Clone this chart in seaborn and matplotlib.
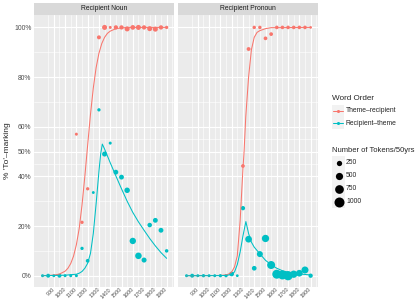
import numpy as np
import pandas as pd
import seaborn as sns
import matplotlib.pyplot as plt
from matplotlib.patches import Rectangle

nan = np.nan

# 50-year periods
years = list(range(800, 1901, 50))

# Recipient Noun: observed share of 'to'-marking and token counts
noun_tr_pct = [nan, nan, nan, nan, nan, nan, 0.57, 0.215, 0.35, nan, 0.96, 1.0,
               1.0, 1.0, 1.0, 0.994, 1.0, 1.0, 1.0, 0.995, 0.993, 1.0, 1.0]
noun_tr_tok = [nan, nan, nan, nan, nan, nan, 50, 70, 70, nan, 120, 220,
               50, 150, 150, 220, 186, 220, 150, 220, 220, 150, 70]
noun_rt_pct = [0, 0, 0, 0, 0, 0, 0, 0.11, 0.06, 0.335, 0.668, 0.49,
               0.534, 0.417, 0.397, 0.344, 0.14, 0.08, 0.063, 0.204, 0.223, 0.183, 0.10]
noun_rt_tok = [50, 120, 50, 120, 50, 50, 50, 70, 100, 40, 70, 220,
               50, 200, 200, 270, 380, 400, 220, 170, 200, 200, 85]

# Recipient Pronoun
pron_tr_pct = [nan, nan, nan, nan, nan, nan, nan, nan, nan, nan, 0.442, 0.913,
               1.0, 1.0, 0.956, 0.973, 1.0, 1.0, 1.0, 1.0, 1.0, 1.0, 1.0]
pron_tr_tok = [nan, nan, nan, nan, nan, nan, nan, nan, nan, nan, 100, 110,
               80, 80, 100, 100, 90, 90, 90, 90, 90, 90, 30]
pron_rt_pct = [0, 0, 0, 0, 0, 0, 0, 0, 0.007, 0, 0.272, 0.147,
               0.03, 0.087, 0.15, 0.043, 0.006, 0.003, 0.0, 0.006, 0.01, 0.023, 0.0]
pron_rt_tok = [50, 120, 50, 70, 50, 50, 70, 70, 186, 35, 150, 425,
               186, 332, 512, 625, 800, 800, 850, 512, 425, 470, 150]

# fitted model curves
noun_tr_fit_x = [800, 850, 900, 950, 1000, 1025, 1050, 1075, 1100, 1125, 1150, 1175, 1200,
                 1225, 1250, 1275, 1300, 1325, 1350, 1375, 1400, 1450, 1500, 1550, 1900]
noun_tr_fit_y = [0.0003, 0.0009, 0.0024, 0.0066, 0.018, 0.030, 0.049, 0.079, 0.125, 0.19,
                 0.285, 0.40, 0.526, 0.65, 0.756, 0.838, 0.896, 0.935, 0.96, 0.976, 0.985,
                 0.995, 0.998, 1.0, 1.0]
noun_rt_fit_x = [800, 900, 1000, 1050, 1100, 1125, 1150, 1175, 1200, 1225, 1250, 1275, 1300,
                 1315, 1330, 1350, 1400, 1450, 1500, 1550, 1600, 1650, 1700, 1750, 1800,
                 1850, 1900]
noun_rt_fit_y = [0.0, 0.001, 0.002, 0.004, 0.006, 0.01, 0.017, 0.03, 0.05, 0.09, 0.17, 0.29,
                 0.42, 0.49, 0.53, 0.51, 0.455, 0.402, 0.35, 0.30, 0.255, 0.217, 0.183, 0.15,
                 0.12, 0.093, 0.07]
pron_tr_fit_x = [800, 1000, 1100, 1150, 1175, 1200, 1225, 1250, 1275, 1300, 1310, 1325, 1350,
                 1375, 1400, 1425, 1450, 1500, 1550, 1900]
pron_tr_fit_y = [0.0, 0.0005, 0.001, 0.003, 0.007, 0.015, 0.035, 0.08, 0.22, 0.43, 0.50, 0.64,
                 0.80, 0.91, 0.96, 0.98, 0.987, 0.995, 0.999, 1.0]
pron_rt_fit_x = [800, 1100, 1150, 1175, 1200, 1225, 1250, 1275, 1300, 1326, 1350, 1375, 1400,
                 1450, 1500, 1550, 1600, 1650, 1700, 1750, 1800, 1850, 1900]
pron_rt_fit_y = [0.0, 0.0005, 0.001, 0.003, 0.006, 0.015, 0.045, 0.095, 0.16, 0.218, 0.17,
                 0.135, 0.115, 0.088, 0.062, 0.044, 0.03, 0.02, 0.014, 0.01, 0.007, 0.005, 0.003]

panels = ['Recipient Noun', 'Recipient Pronoun']
orders = ['Theme\u2013recipient', 'Recipient\u2013theme']
pal = {orders[0]: '#F8766D', orders[1]: '#00BFC4'}

y_breaks = [0, 0.2, 0.4, 0.5, 0.6, 0.8, 1.0]
y_labels = ['0%', '20%', '40%', '50%', '60%', '80%', '100%']
x_breaks = list(range(900, 1901, 100))
size_breaks = [250, 500, 750, 1000]

# build long tables
rows = []
for panel, order, pct, tok in [
        (panels[0], orders[0], noun_tr_pct, noun_tr_tok),
        (panels[0], orders[1], noun_rt_pct, noun_rt_tok),
        (panels[1], orders[0], pron_tr_pct, pron_tr_tok),
        (panels[1], orders[1], pron_rt_pct, pron_rt_tok)]:
    for yr, p, t in zip(years, pct, tok):
        rows.append({'panel': panel, 'order': order, 'year': yr, 'pct': p, 'tokens': t})
pts = pd.DataFrame(rows).dropna()

crows = []
for panel, order, xs, ys in [
        (panels[0], orders[0], noun_tr_fit_x, noun_tr_fit_y),
        (panels[0], orders[1], noun_rt_fit_x, noun_rt_fit_y),
        (panels[1], orders[0], pron_tr_fit_x, pron_tr_fit_y),
        (panels[1], orders[1], pron_rt_fit_x, pron_rt_fit_y)]:
    for x, y in zip(xs, ys):
        crows.append({'panel': panel, 'order': order, 'year': x, 'pct': y})
fits = pd.DataFrame(crows)

sns.set_style('darkgrid', {'axes.facecolor': '#EBEBEB', 'grid.color': 'white'})
plt.rcParams['font.family'] = ['Liberation Sans', 'DejaVu Sans']

W, H = 420, 301
fig = plt.figure(figsize=(W / 100, H / 100), dpi=100)
fig.patch.set_facecolor('white')

SIZES = (2.2, 51.8)
NORM = (0, 1000)
panel_left = [34.3, 178.3]
panel_w = 140.0
top, bottom = 15.0, 286.5

for i, panel in enumerate(panels):
    ax = fig.add_axes([panel_left[i] / W, 1 - bottom / H, panel_w / W, (bottom - top) / H])
    ax.set_facecolor('#EBEBEB')
    sub = pts[pts['panel'] == panel]
    sns.scatterplot(data=sub, x='year', y='pct', hue='order', hue_order=orders,
                    palette=pal, size='tokens', sizes=SIZES, size_norm=NORM,
                    linewidth=0, legend=False, ax=ax, zorder=3)
    fsub = fits[fits['panel'] == panel]
    sns.lineplot(data=fsub, x='year', y='pct', hue='order', hue_order=orders,
                 palette=pal, estimator=None, sort=True, linewidth=0.75,
                 legend=False, ax=ax, zorder=4)
    ax.set_xlim(727, 1968)
    ax.set_ylim(-0.0435, 1.05)
    ax.set_xticks(x_breaks)
    ax.set_xticks(list(range(850, 1951, 100)), minor=True)
    ax.set_yticks(y_breaks)
    ax.set_yticks([0.1, 0.3, 0.45, 0.55, 0.7, 0.9], minor=True)
    ax.grid(which='major', color='white', linewidth=0.8)
    ax.grid(which='minor', color='white', linewidth=0.4)
    ax.set_axisbelow(True)
    for s in ax.spines.values():
        s.set_visible(False)
    ax.tick_params(which='major', length=1.3, width=0.5, color='#333333',
                   labelsize=4.9, labelcolor='#4D4D4D', pad=0.8)
    ax.tick_params(axis='x', which='major', labelsize=4.0, pad=0.2)
    ax.tick_params(which='minor', length=0)
    ax.set_xticklabels([str(b) for b in x_breaks], rotation=45, ha='right',
                       va='center', rotation_mode='anchor')
    if i == 0:
        ax.set_yticklabels(y_labels)
    else:
        ax.tick_params(axis='y', which='both', left=False, labelleft=False)
    ax.set_xlabel('')
    ax.set_ylabel('')

    # facet strip
    sax = fig.add_axes([panel_left[i] / W, 1 - top / H, panel_w / W, 12.3 / H])
    sax.set_facecolor('#D9D9D9')
    sax.set_xticks([])
    sax.set_yticks([])
    for s in sax.spines.values():
        s.set_visible(False)
    sax.text(0.5, 0.5, panel, ha='center', va='center', fontsize=4.9, color='#1A1A1A',
             transform=sax.transAxes)

fig.text(8 / W, 1 - 151 / H, "% 'To'\u2013marking", rotation=90, ha='center',
         va='center', fontsize=6)

# legends drawn in pixel coordinates
lax = fig.add_axes([0, 0, 1, 1])
lax.set_xlim(0, W)
lax.set_ylim(H, 0)
lax.axis('off')
lax.patch.set_alpha(0)

lax.text(331.5, 98, 'Word Order', fontsize=5.9, ha='left', va='center')
for yk, order in zip([110.7, 123.3], orders):
    lax.add_patch(Rectangle((331.8, yk - 6), 12, 12, facecolor='#F2F2F2', edgecolor='none'))
    lax.plot([332.8, 342.8], [yk, yk], color=pal[order], linewidth=0.75)
    lax.plot([337.8], [yk], 'o', color=pal[order], markersize=2.2, markeredgewidth=0)
    lax.text(346, yk, order, fontsize=4.9, ha='left', va='center')

lax.text(331.5, 150, 'Number of Tokens/50yrs', fontsize=5.5, ha='left', va='center')
for yk, b in zip([162.7, 175.8, 188.8, 201.8], size_breaks):
    lax.add_patch(Rectangle((332.3, yk - 6.5), 13, 13, facecolor='#F2F2F2', edgecolor='none'))
    s = SIZES[0] + (SIZES[1] - SIZES[0]) * b / NORM[1]
    lax.scatter([338.8], [yk], s=s, color='black', linewidth=0)
    lax.text(346, yk, str(b), fontsize=4.9, ha='left', va='center')

fig.savefig('out.png', dpi=100)
